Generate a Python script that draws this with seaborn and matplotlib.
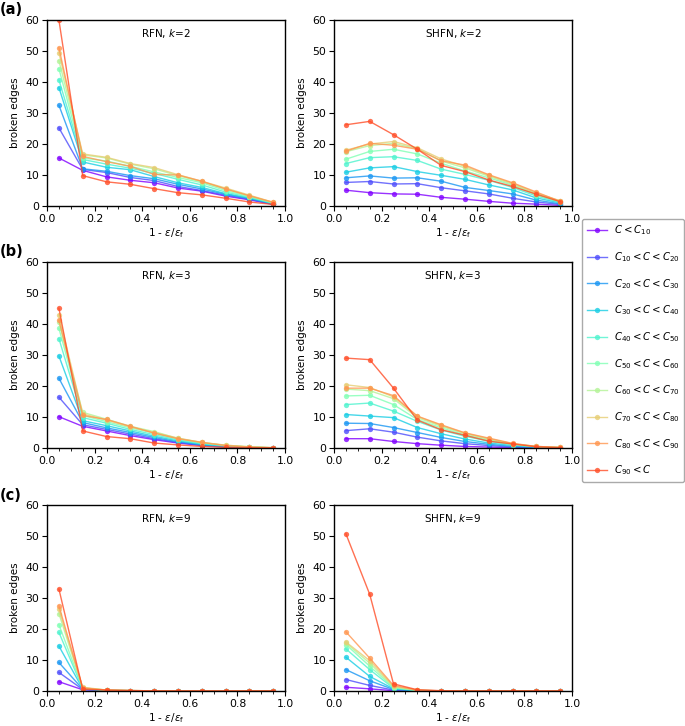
import numpy as np
import pandas as pd
import matplotlib
matplotlib.use("Agg")
import matplotlib.pyplot as plt
import seaborn as sns
from matplotlib.ticker import MultipleLocator

x_vals = [0.05, 0.15, 0.25, 0.35, 0.45, 0.55, 0.65, 0.75, 0.85, 0.95]
class_labels = [r"$C<C_{10}$", r"$C_{10}<C<C_{20}$", r"$C_{20}<C<C_{30}$",
                r"$C_{30}<C<C_{40}$", r"$C_{40}<C<C_{50}$", r"$C_{50}<C<C_{60}$",
                r"$C_{60}<C<C_{70}$", r"$C_{70}<C<C_{80}$", r"$C_{80}<C<C_{90}$",
                r"$C_{90}<C$"]
panel_titles = ["RFN, $k$=2", "SHFN, $k$=2", "RFN, $k$=3", "SHFN, $k$=3",
                "RFN, $k$=9", "SHFN, $k$=9"]
row_labels = ["(a)", "(b)", "(c)"]

# values: rows = x positions, columns = classes (C<C10 ... C90<C)
rfn_k2 = [
    [15.5, 25.2, 32.5, 38.2, 40.7, 44.3, 46.9, 49.5, 51.1, 60.0],
    [11.5, 11.8, 12.0, 14.2, 15.0, 15.5, 16.5, 16.8, 16.0, 9.8],
    [9.4, 10.8, 11.2, 12.5, 13.5, 14.5, 15.5, 15.7, 14.3, 7.8],
    [8.3, 9.2, 9.8, 11.7, 12.2, 12.8, 13.5, 13.7, 12.8, 7.0],
    [7.5, 8.2, 8.8, 9.5, 10.5, 11.0, 12.0, 12.4, 10.2, 5.6],
    [5.8, 6.3, 7.0, 7.5, 8.6, 9.2, 9.8, 10.1, 10.0, 4.3],
    [4.8, 5.0, 5.5, 6.0, 6.8, 7.5, 7.8, 8.0, 8.0, 3.6],
    [3.2, 3.5, 3.8, 4.0, 4.5, 5.0, 5.5, 5.8, 5.5, 2.5],
    [2.0, 2.2, 2.4, 2.6, 2.8, 3.0, 3.2, 3.5, 3.3, 1.3],
    [0.5, 0.6, 0.7, 0.8, 0.9, 1.0, 1.1, 1.2, 1.2, 0.5],
]
shfn_k2 = [
    [5.1, 7.6, 9.1, 10.9, 13.7, 15.1, 17.5, 18.0, 17.7, 26.2],
    [4.3, 7.9, 9.7, 12.3, 15.6, 17.6, 19.5, 20.0, 20.2, 27.3],
    [3.9, 7.1, 9.0, 12.7, 15.9, 18.3, 20.2, 20.8, 19.6, 23.0],
    [3.8, 7.2, 9.1, 11.1, 14.7, 16.8, 18.5, 18.8, 18.3, 18.3],
    [2.8, 5.9, 8.0, 9.9, 11.9, 13.8, 14.5, 15.2, 14.6, 13.1],
    [2.2, 4.9, 6.0, 8.6, 10.2, 11.3, 12.3, 12.8, 13.2, 11.1],
    [1.5, 3.9, 5.0, 6.8, 8.3, 9.1, 9.6, 9.9, 10.1, 8.4],
    [0.9, 2.5, 3.9, 5.2, 6.0, 6.7, 7.0, 7.3, 7.5, 6.3],
    [0.6, 1.3, 1.9, 2.6, 3.2, 3.6, 3.9, 4.2, 4.5, 3.8],
    [0.2, 0.5, 0.7, 1.0, 1.2, 1.4, 1.6, 1.7, 1.5, 1.4],
]
rfn_k3 = [
    [10.1, 16.4, 22.5, 29.7, 35.3, 38.6, 40.5, 43.0, 41.3, 45.1],
    [7.0, 7.5, 8.2, 8.8, 9.8, 10.5, 11.5, 11.0, 10.5, 5.5],
    [5.5, 6.0, 6.5, 7.2, 8.0, 8.5, 9.3, 9.0, 9.2, 3.7],
    [4.0, 4.5, 5.0, 5.5, 6.0, 6.5, 7.0, 6.8, 7.0, 3.0],
    [2.7, 3.0, 3.4, 3.8, 4.3, 4.8, 5.3, 5.0, 4.8, 1.6],
    [1.6, 1.8, 2.0, 2.3, 2.6, 2.9, 3.1, 3.2, 3.0, 1.0],
    [0.8, 0.9, 1.0, 1.2, 1.4, 1.6, 1.8, 1.8, 1.8, 0.5],
    [0.3, 0.4, 0.5, 0.6, 0.7, 0.8, 0.9, 0.9, 0.8, 0.2],
    [0.1, 0.1, 0.2, 0.2, 0.3, 0.3, 0.4, 0.4, 0.3, 0.1],
    [0.0, 0.0, 0.0, 0.05, 0.05, 0.05, 0.1, 0.1, 0.1, 0.05],
]
shfn_k3 = [
    [3.0, 5.6, 8.0, 10.8, 14.0, 16.8, 19.0, 20.4, 19.3, 29.0],
    [3.0, 6.2, 7.9, 10.3, 14.5, 17.0, 18.5, 19.5, 19.3, 28.5],
    [2.1, 5.1, 6.6, 9.8, 11.9, 14.0, 15.9, 16.5, 16.9, 19.3],
    [1.4, 3.5, 5.0, 6.6, 8.6, 9.2, 9.8, 10.2, 10.3, 9.0],
    [0.9, 2.3, 3.4, 4.6, 5.8, 6.5, 7.0, 7.3, 7.5, 5.9],
    [0.5, 1.4, 2.1, 2.9, 3.8, 4.2, 4.6, 4.8, 4.9, 4.1],
    [0.3, 0.8, 1.2, 1.6, 2.2, 2.5, 2.8, 3.0, 3.2, 2.2],
    [0.1, 0.3, 0.5, 0.8, 1.0, 1.1, 1.3, 1.4, 1.5, 1.3],
    [0.0, 0.1, 0.2, 0.3, 0.4, 0.4, 0.5, 0.5, 0.5, 0.4],
    [0.0, 0.0, 0.05, 0.1, 0.1, 0.1, 0.2, 0.2, 0.2, 0.1],
]
rfn_k9 = [
    [3.0, 6.0, 9.2, 14.5, 18.9, 21.4, 25.0, 26.3, 27.5, 32.9],
    [0.4, 0.5, 0.6, 0.7, 0.8, 0.9, 1.0, 1.2, 1.0, 0.6],
    [0.1, 0.1, 0.15, 0.2, 0.2, 0.25, 0.3, 0.3, 0.3, 0.3],
    [0.05, 0.05, 0.1, 0.1, 0.1, 0.1, 0.15, 0.15, 0.15, 0.15],
    [0.0, 0.0, 0.0, 0.05, 0.05, 0.05, 0.05, 0.05, 0.05, 0.05],
    [0.0, 0.0, 0.0, 0.0, 0.0, 0.0, 0.0, 0.0, 0.0, 0.05],
    [0.0, 0.0, 0.0, 0.0, 0.0, 0.0, 0.0, 0.0, 0.0, 0.05],
    [0.0, 0.0, 0.0, 0.0, 0.0, 0.0, 0.0, 0.0, 0.0, 0.05],
    [0.0, 0.0, 0.0, 0.0, 0.0, 0.0, 0.0, 0.0, 0.0, 0.05],
    [0.0, 0.0, 0.0, 0.0, 0.0, 0.0, 0.0, 0.0, 0.0, 0.05],
]
shfn_k9 = [
    [1.2, 3.7, 6.9, 10.9, 13.6, 15.0, 15.5, 15.8, 19.1, 50.7],
    [0.7, 1.8, 3.3, 4.7, 6.9, 8.0, 9.0, 9.8, 10.6, 31.2],
    [0.1, 0.3, 0.5, 0.7, 0.9, 1.1, 1.3, 1.5, 1.8, 2.3],
    [0.0, 0.05, 0.1, 0.1, 0.15, 0.2, 0.2, 0.25, 0.3, 0.4],
    [0.0, 0.0, 0.0, 0.0, 0.0, 0.05, 0.05, 0.05, 0.05, 0.1],
    [0.0, 0.0, 0.0, 0.0, 0.0, 0.0, 0.0, 0.0, 0.0, 0.05],
    [0.0, 0.0, 0.0, 0.0, 0.0, 0.0, 0.0, 0.0, 0.0, 0.05],
    [0.0, 0.0, 0.0, 0.0, 0.0, 0.0, 0.0, 0.0, 0.0, 0.05],
    [0.0, 0.0, 0.0, 0.0, 0.0, 0.0, 0.0, 0.0, 0.0, 0.05],
    [0.0, 0.0, 0.0, 0.0, 0.0, 0.0, 0.0, 0.0, 0.0, 0.05],
]
panels = [rfn_k2, shfn_k2, rfn_k3, shfn_k3, rfn_k9, shfn_k9]

palette = [tuple(c) for c in plt.cm.rainbow(np.arange(len(class_labels)) / len(class_labels))]

fig = plt.figure(figsize=(6.85, 7.26), dpi=100)
lefts = [47 / 685, 334 / 685]
width = 238 / 685
tops_px = [20, 262, 505]
height = 186 / 726

handles = None
for i, (data, title) in enumerate(zip(panels, panel_titles)):
    r, c = divmod(i, 2)
    ax = fig.add_axes([lefts[c], 1 - (tops_px[r] + 186) / 726, width, height])
    arr = np.array(data)
    rows = []
    for xi, xv in enumerate(x_vals):
        for ci, lab in enumerate(class_labels):
            rows.append({"x": xv, "y": arr[xi, ci], "cls": lab})
    df = pd.DataFrame(rows)
    sns.lineplot(data=df, x="x", y="y", hue="cls", hue_order=class_labels,
                 palette=palette, marker="o", markersize=3.8, markeredgewidth=0,
                 linewidth=1.0, alpha=0.8, ax=ax, legend=(i == 0))
    if i == 0:
        handles, labels = ax.get_legend_handles_labels()
        ax.get_legend().remove()
    ax.set_xlim(0, 1)
    ax.set_ylim(0, 60)
    ax.set_xticks([0.0, 0.2, 0.4, 0.6, 0.8, 1.0])
    ax.xaxis.set_minor_locator(MultipleLocator(0.05))
    ax.set_yticks([0, 10, 20, 30, 40, 50, 60])
    ax.tick_params(labelsize=7.8, length=3.5, pad=2)
    ax.tick_params(which="minor", length=2.0)
    ax.set_xlabel(r"1 - $\varepsilon/\varepsilon_\mathrm{f}$", fontsize=7.5, labelpad=1.5)
    ax.set_ylabel("broken edges", fontsize=7.5, labelpad=4)
    ax.text(0.5, 0.925, title, transform=ax.transAxes, ha="center", va="center",
            fontsize=7.5)
    for s in ax.spines.values():
        s.set_linewidth(1.0)
    if c == 0:
        fig.text(0.0, 1 - (tops_px[r] - 10) / 726, row_labels[r],
                 fontsize=10.5, fontweight="bold", ha="left", va="center")

fig.legend(handles, labels, loc="upper left",
           bbox_to_anchor=(582 / 685, 1 - 219 / 726), fontsize=7.3,
           labelspacing=1.27, handlelength=2.0, handletextpad=0.7,
           borderaxespad=0.0, borderpad=0.45,
           framealpha=1.0, edgecolor="#aaaaaa", fancybox=True)

fig.savefig("out.png", dpi=100)
